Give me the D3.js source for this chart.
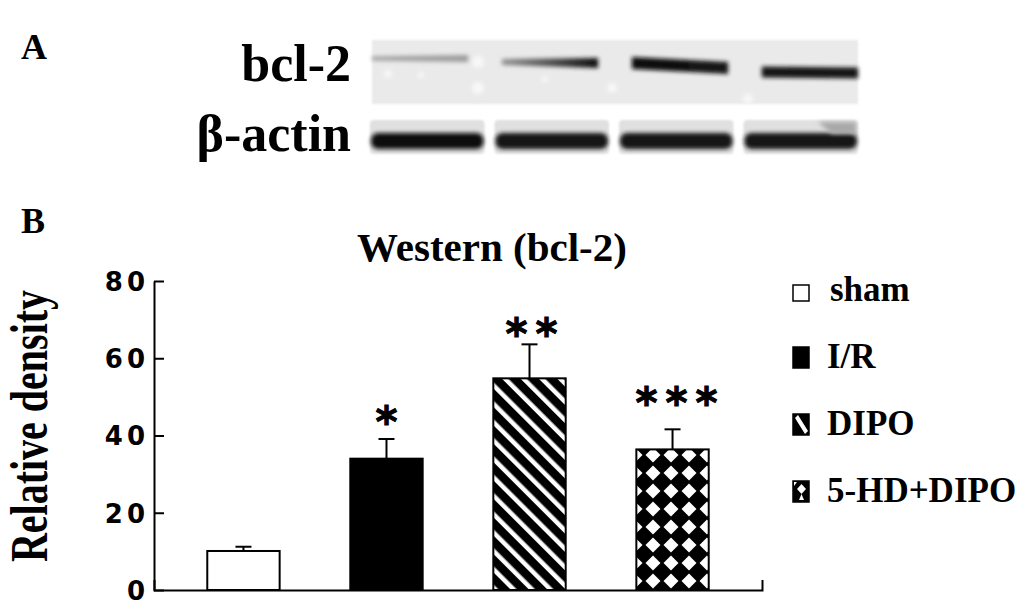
<!DOCTYPE html>
<html>
<head>
<meta charset="utf-8">
<script src="https://cdn.jsdelivr.net/npm/d3@7"></script>
<style>
  body { margin: 0; background: #fff; }
  svg { display: block; }
</style>
</head>
<body>
<div id="chart"></div>
<script>
const WIDTH = 1033;
const HEIGHT = 609;

// bar chart data (panel B)
const groups = ['sham', 'I/R', 'DIPO', '5-HD+DIPO'];
const density = [10.1, 34.0, 54.8, 36.4];
const sem = [1.1, 5.1, 8.8, 5.2];
const marks = ['', '*', '**', '***'];
const markLevel = [null, 46.1, 68.8, 51.0];
const yTicks = [0, 20, 40, 60, 80];

// blot band strength per lane (panel A), 0..1, left and right end of band
const bcl2Left = [0.3, 0.35, 1.0, 0.95];
const bcl2Right = [0.32, 1.0, 0.97, 0.95];
const actinSignal = [1.0, 0.97, 0.97, 0.97];

const SERIF = '"Liberation Serif", "Times New Roman", serif';

var svg = d3.select("#chart").append("svg")
    .attr("width", WIDTH)
    .attr("height", HEIGHT);

var defs = svg.append("defs");

var stripes = defs.append("pattern")
    .attr("id", "stripes")
    .attr("patternUnits", "userSpaceOnUse")
    .attr("width", 13)
    .attr("height", 13)
    .attr("patternTransform", "translate(491,0) rotate(-45)");
stripes.append("rect").attr("width", 13).attr("height", 13).attr("fill", "#000");
stripes.append("rect").attr("width", 4.5).attr("height", 13).attr("fill", "#fff");

var diamonds = defs.append("pattern")
    .attr("id", "diamonds")
    .attr("patternUnits", "userSpaceOnUse")
    .attr("x", 644)
    .attr("y", 446)
    .attr("width", 18)
    .attr("height", 18);
diamonds.append("rect").attr("width", 18).attr("height", 18).attr("fill", "#000");
diamonds.append("path").attr("d", "M9,1.5L16.5,9L9,16.5L1.5,9Z").attr("fill", "#fff");

defs.append("filter").attr("id", "soft")
    .attr("filterUnits", "userSpaceOnUse")
    .attr("x", 340).attr("y", 20).attr("width", 540).attr("height", 160)
  .append("feGaussianBlur").attr("stdDeviation", 2.2);

defs.append("filter").attr("id", "edge")
    .attr("filterUnits", "userSpaceOnUse")
    .attr("x", 340).attr("y", 20).attr("width", 540).attr("height", 160)
  .append("feGaussianBlur").attr("stdDeviation", 0.8);

const fills = ['#fff', '#000', 'url(#stripes)', 'url(#diamonds)'];

// ---------- panel A : western blot ----------
svg.append("text")
    .attr("x", 21).attr("y", 59)
    .attr("font-family", SERIF).attr("font-weight", "bold").attr("font-size", 36)
    .text("A");

svg.append("text")
    .attr("x", 351).attr("y", 81)
    .attr("text-anchor", "end")
    .attr("font-family", SERIF).attr("font-weight", "bold").attr("font-size", 52)
    .text("bcl-2");

svg.append("text")
    .attr("x", 351).attr("y", 151)
    .attr("text-anchor", "end")
    .attr("font-family", SERIF).attr("font-weight", "bold").attr("font-size", 52)
    .text("β-actin");

var shade = d3.interpolateRgb("#dedede", "#0e0e0e");

var laneBcl = d3.scaleBand().domain(groups).range([372, 858]).paddingInner(0.26);
var laneActin = d3.scaleBand().domain(groups).range([370, 858]).paddingInner(0.08);

var blot = svg.append("g");

blot.append("rect")
    .attr("x", 372).attr("y", 40).attr("width", 486).attr("height", 64)
    .attr("fill", "#eaeaea")
    .attr("filter", "url(#edge)");

// a few pale spots in the membrane
[[388, 74, 4], [421, 75, 3], [478, 62, 6], [478, 88, 6], [545, 79, 3],
 [612, 88, 5], [748, 99, 5]].forEach(s => {
    blot.append("circle").attr("cx", s[0]).attr("cy", s[1]).attr("r", s[2])
        .attr("fill", "#f8f8f8").attr("filter", "url(#soft)");
});

// band centre lines (layout of the scan)
const bclYLeft = [58.5, 62, 63, 72];
const bclYRight = [58.5, 63, 68, 73];
const bclThick = [7, 10, 12, 11];

groups.forEach((g, i) => {
    var grad = defs.append("linearGradient").attr("id", "band" + i);
    grad.append("stop").attr("offset", "0%").attr("stop-color", shade(bcl2Left[i]));
    grad.append("stop").attr("offset", "100%").attr("stop-color", shade(bcl2Right[i]));
    var x0 = laneBcl(g), x1 = x0 + laneBcl.bandwidth();
    var t = bclThick[i] / 2;
    var tl = bcl2Left[i] < 0.5 ? t * 0.6 : t;
    blot.append("path")
        .attr("d", `M${x0},${bclYLeft[i] - tl}L${x1},${bclYRight[i] - t}` +
                   `L${x1},${bclYRight[i] + t}L${x0},${bclYLeft[i] + tl}Z`)
        .attr("fill", `url(#band${i})`)
        .attr("filter", "url(#soft)");
});

groups.forEach((g, i) => {
    var x0 = laneActin(g), w = laneActin.bandwidth();
    blot.append("rect")
        .attr("x", x0).attr("y", 120).attr("width", w).attr("height", 34)
        .attr("rx", 4)
        .attr("fill", "#e0e0e0")
        .attr("filter", "url(#edge)");
    blot.append("rect")
        .attr("x", x0 + 1).attr("y", 133).attr("width", w - 2).attr("height", 16)
        .attr("rx", 7)
        .attr("fill", shade(actinSignal[i]))
        .attr("filter", "url(#soft)");
});
// darker corner on the last actin lane
blot.append("path")
    .attr("d", "M818,122L856,122L856,134L832,134Z")
    .attr("fill", "#a9a9a9").attr("filter", "url(#soft)");

// ---------- panel B : bar chart ----------
svg.append("text")
    .attr("x", 21).attr("y", 233)
    .attr("font-family", SERIF).attr("font-weight", "bold").attr("font-size", 36)
    .text("B");

svg.append("text")
    .attr("x", 492).attr("y", 261)
    .attr("text-anchor", "middle")
    .attr("font-family", SERIF).attr("font-weight", "bold").attr("font-size", 41)
    .text("Western (bcl-2)");

var yScale = d3.scaleLinear().domain([0, 80]).range([590, 281]);
var xScale = d3.scaleBand().domain(groups).range([154, 762])
    .paddingInner(0.494).paddingOuter(0.3725);

var yAxis = svg.append("g")
    .attr("transform", "translate(154,0)")
    .call(d3.axisLeft(yScale).tickValues(yTicks).tickSizeInner(-10).tickSizeOuter(0).tickPadding(5));
yAxis.select(".domain").attr("stroke", "#000").attr("stroke-width", 2);
yAxis.selectAll(".tick line").attr("stroke", "#000").attr("stroke-width", 2);
yAxis.selectAll(".tick text")
    .attr("font-family", '"DejaVu Sans", sans-serif')
    .attr("font-weight", "bold")
    .attr("font-size", 26)
    .attr("letter-spacing", 4)
    .attr("dy", "0.36em")
    .attr("fill", "#000");

var xAxis = svg.append("g")
    .attr("transform", "translate(0,590)")
    .call(d3.axisBottom(xScale).tickValues([]).tickSizeOuter(-10));
xAxis.select(".domain").attr("stroke", "#000").attr("stroke-width", 2);

svg.append("g")
    .attr("transform", "translate(47,426) rotate(-90) scale(1,1.3)")
  .append("text")
    .attr("text-anchor", "middle")
    .attr("font-family", SERIF).attr("font-weight", "bold").attr("font-size", 40)
    .text("Relative density");

var bars = svg.append("g");

bars.selectAll("rect")
    .data(groups)
    .enter()
    .append("rect")
        .attr("x", d => xScale(d))
        .attr("y", (d, i) => yScale(density[i]))
        .attr("width", xScale.bandwidth())
        .attr("height", (d, i) => yScale(0) - yScale(density[i]))
        .attr("fill", (d, i) => fills[i])
        .attr("stroke", "#000")
        .attr("stroke-width", 2);

var errs = svg.append("g").attr("stroke", "#000").attr("stroke-width", 2);
groups.forEach((g, i) => {
    var cx = xScale(g) + xScale.bandwidth() / 2;
    errs.append("line")
        .attr("x1", cx).attr("x2", cx)
        .attr("y1", yScale(density[i])).attr("y2", yScale(density[i] + sem[i]));
    errs.append("line")
        .attr("x1", cx - 8).attr("x2", cx + 8)
        .attr("y1", yScale(density[i] + sem[i])).attr("y2", yScale(density[i] + sem[i]));
});

var stars = svg.append("g")
    .attr("font-family", '"DejaVu Sans", sans-serif')
    .attr("font-weight", "bold")
    .attr("font-size", 42)
    .attr("stroke", "#000")
    .attr("stroke-width", 1)
    .attr("text-anchor", "middle");
groups.forEach((g, i) => {
    var n = marks[i].length;
    if (!n) return;
    var cx = xScale(g) + xScale.bandwidth() / 2 + (n - 1) * 2;
    for (let k = 0; k < n; k++) {
        stars.append("text")
            .attr("x", cx + (k - (n - 1) / 2) * 30)
            .attr("y", yScale(markLevel[i]) + 25)
            .text("*");
    }
});

// legend
var legend = svg.append("g")
    .attr("font-family", SERIF).attr("font-weight", "bold").attr("font-size", 35);

var lgStripe = defs.append("pattern")
    .attr("id", "lgStripe").attr("patternUnits", "userSpaceOnUse")
    .attr("width", 17).attr("height", 21);
lgStripe.append("rect").attr("width", 17).attr("height", 21).attr("fill", "#000");
lgStripe.append("path").attr("d", "M2,4L5,1L15,17L12,20Z").attr("fill", "#fff");

var lgDiamond = defs.append("pattern")
    .attr("id", "lgDiamond").attr("patternUnits", "userSpaceOnUse")
    .attr("width", 17).attr("height", 21);
lgDiamond.append("rect").attr("width", 17).attr("height", 21).attr("fill", "#000");
lgDiamond.append("path").attr("d", "M8.5,3L13,8L8.5,13L4,8Z").attr("fill", "#fff");
lgDiamond.append("path").attr("d", "M8.5,13L11,19L6,19Z").attr("fill", "#fff");
lgDiamond.append("path").attr("d", "M1,1L4,1L1,5Z").attr("fill", "#fff");

const legendFills = ['#fff', '#000', 'url(#lgStripe)', 'url(#lgDiamond)'];

var items = legend.selectAll("g")
    .data(groups)
    .enter()
    .append("g")
        .attr("transform", (d, i) => `translate(793,${301 + i * 67})`);

items.append("rect")
    .attr("x", 0)
    .attr("y", (d, i) => i === 0 ? -16 : -21)
    .attr("width", 16)
    .attr("height", (d, i) => i === 0 ? 16 : 21)
    .attr("fill", (d, i) => legendFills[i])
    .attr("stroke", "#000")
    .attr("stroke-width", 1.5);

items.append("text")
    .attr("x", (d, i) => i === 0 ? 37 : 34)
    .attr("y", 0)
    .text(d => d);
</script>
</body>
</html>
